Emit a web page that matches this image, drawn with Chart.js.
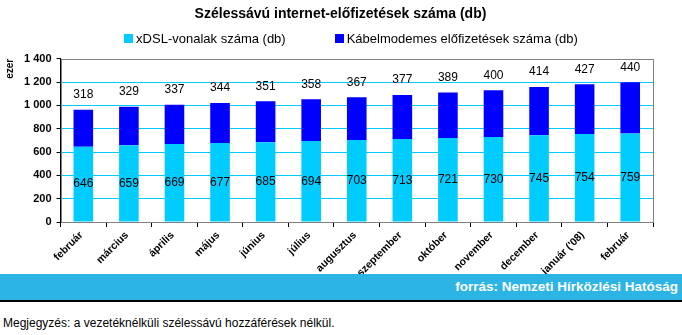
<!DOCTYPE html>
<html>
<head>
<meta charset="utf-8">
<script src="https://cdn.jsdelivr.net/npm/chart.js@4/dist/chart.umd.min.js"></script>
<style>
  html, body { margin: 0; padding: 0; background: #fff; width: 682px; height: 335px; overflow: hidden; }
  body { font-family: Arial, "Liberation Sans", sans-serif; position: relative; }
  #wrap { position: absolute; left: 0; top: 0; width: 682px; height: 290px; }
  .band { position: absolute; left: 0; top: 274px; width: 682px; height: 26px; background: #2cb4e4; border-bottom: 2px solid #000;
          color: #fff; font-weight: bold; font-size: 13.5px; line-height: 26px; text-align: right; }
  .band span { padding-right: 4px; }
  .note { position: absolute; left: 3px; top: 316px; font-size: 12px; color: #000; }
</style>
</head>
<body>
<div id="wrap"><canvas id="chart"></canvas></div>
<div class="band"><span>forrás: Nemzeti Hírközlési Hatóság</span></div>
<div class="note">Megjegyzés: a vezetéknélküli szélessávú hozzáférések nélkül.</div>
<script>
const months = ['február', 'március', 'április', 'május', 'június', 'július', 'augusztus',
  'szeptember', 'október', 'november', 'december', "január ('08)", 'február'];
const xdsl = [646, 659, 669, 677, 685, 694, 703, 713, 721, 730, 745, 754, 759];
const cable = [318, 329, 337, 344, 351, 358, 367, 377, 389, 400, 414, 427, 440];
const yTicks = [0, 200, 400, 600, 800, 1000, 1200, 1400];

const FONT = 'Arial, "Liberation Sans", sans-serif';

// plot frame: gray on top and right, the axes draw black left/bottom
const frame = {
  id: 'frame',
  afterLayout(chart) {
    // title sits centred on the page, not on the padded box
    const t = chart.titleBlock;
    if (t) { t.left += 12; t.right += 12; }
  },
  beforeDatasetsDraw(chart) {
    const { ctx, chartArea: a } = chart;
    ctx.save();
    ctx.strokeStyle = '#808080';
    ctx.lineWidth = 1;
    ctx.strokeRect(Math.round(a.left) + 0.5, Math.round(a.top) + 0.5, Math.round(a.width), Math.round(a.height));
    ctx.restore();
  }
};

// legend row under the title, square swatches taken from the datasets
const legendRow = {
  id: 'legendRow',
  afterDraw(chart) {
    const { ctx } = chart;
    const box = 9, gap = 3, spacing = 49, y = 38;
    ctx.save();
    ctx.font = '13px ' + FONT;
    ctx.textBaseline = 'middle';
    const items = chart.data.datasets.map(ds => ({ text: ds.label, color: ds.backgroundColor, w: ctx.measureText(ds.label).width }));
    const total = items.reduce((s, it) => s + box + gap + it.w, 0) + spacing * (items.length - 1);
    let x = chart.width / 2 + 10 - total / 2;
    items.forEach(it => {
      ctx.fillStyle = it.color;
      ctx.fillRect(Math.round(x), y - 4, box, box);
      ctx.fillStyle = '#000';
      ctx.fillText(it.text, x + box + gap, y + 1);
      x += box + gap + it.w + spacing;
    });
    ctx.restore();
  }
};

// value labels: xDSL in the middle of its segment, cable above the stack
const valueLabels = {
  id: 'valueLabels',
  afterDatasetsDraw(chart) {
    const { ctx } = chart;
    ctx.save();
    ctx.font = '12px ' + FONT;
    ctx.fillStyle = '#000';
    ctx.textAlign = 'center';
    ctx.textBaseline = 'middle';
    chart.getDatasetMeta(0).data.forEach((bar, i) => {
      ctx.fillText(String(xdsl[i]), bar.x, (bar.y + bar.base) / 2);
    });
    chart.getDatasetMeta(1).data.forEach((bar, i) => {
      ctx.fillText(String(cable[i]), bar.x, bar.y - 15);
    });
    ctx.restore();
  }
};

new Chart(document.getElementById('chart'), {
  type: 'bar',
  data: {
    labels: months,
    datasets: [
      { label: 'xDSL-vonalak száma (db)', data: xdsl, backgroundColor: '#00ccff', barPercentage: 0.43, categoryPercentage: 1 },
      { label: 'Kábelmodemes előfizetések száma (db)', data: cable, backgroundColor: '#0000ff', barPercentage: 0.43, categoryPercentage: 1 }
    ]
  },
  plugins: [frame, valueLabels, legendRow],
  options: {
    responsive: true,
    maintainAspectRatio: false,
    animation: false,
    layout: { padding: { left: 4, right: 29, top: 0, bottom: 0 } },
    plugins: {
      title: {
        display: true,
        text: 'Szélessávú internet-előfizetések száma (db)',
        color: '#000',
        font: { family: FONT, size: 14, weight: 'bold' },
        padding: { top: 6, bottom: 36 }
      },
      legend: { display: false },
      tooltip: { enabled: false }
    },
    scales: {
      x: {
        stacked: true,
        afterFit(axis) { axis.height = 68; },
        grid: { display: true, drawOnChartArea: false, color: '#000', tickLength: 5, offset: true },
        border: { color: '#000' },
        ticks: {
          color: '#000',
          font: { family: FONT, size: 10.5, weight: 'bold' },
          minRotation: 45,
          maxRotation: 45,
          padding: 2,
          labelOffset: -2
        }
      },
      y: {
        stacked: true,
        min: 0,
        max: 1400,
        afterBuildTicks(axis) {
          axis.ticks = yTicks.map(v => ({ value: v }));
        },
        grid: {
          color: (c) => (c.tick && (c.tick.value === 0 || c.tick.value === 1400)) ? 'rgba(0,0,0,0)' : '#00ccff',
          tickColor: '#000',
          tickLength: 4
        },
        border: { color: '#000' },
        title: {
          display: true,
          text: 'ezer',
          align: 'end',
          color: '#000',
          font: { family: FONT, size: 10, weight: 'bold' },
          padding: { top: 0, bottom: 3 }
        },
        ticks: {
          color: '#000',
          font: { family: FONT, size: 11, weight: 'bold' },
          padding: 5,
          callback: (v) => String(v).replace(/\B(?=(\d{3})+(?!\d))/g, ' ')
        }
      }
    }
  }
});
</script>
</body>
</html>
